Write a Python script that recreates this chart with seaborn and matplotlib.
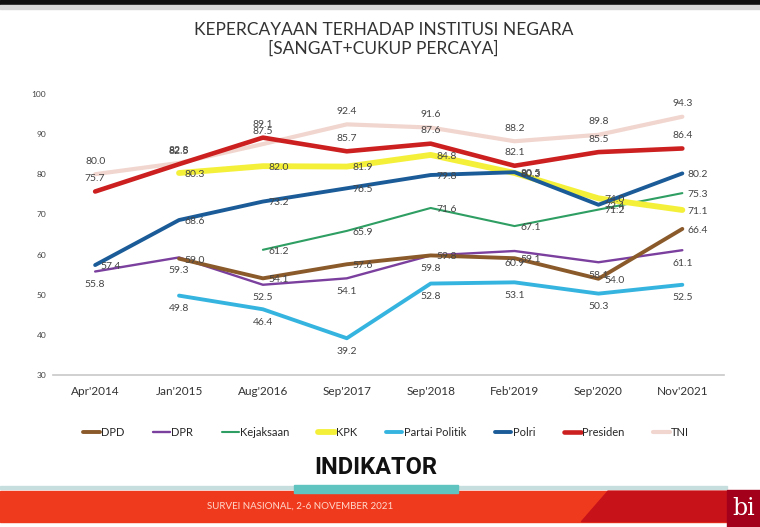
import numpy as np
import pandas as pd
import seaborn as sns
import matplotlib.pyplot as plt
from matplotlib.patches import Rectangle, Polygon

sns.set_theme(style="white")
plt.rcParams['font.family'] = ['Lato', 'DejaVu Sans']

# survey waves
periods = ["Apr'2014", "Jan'2015", "Aug'2016", "Sep'2017",
           "Sep'2018", "Feb'2019", "Sep'2020", "Nov'2021"]

# trust (%), sangat + cukup percaya
dpd = [np.nan, 59.0, 54.1, 57.6, 59.8, 59.1, 54.0, 66.4]
dpr = [55.8, 59.3, 52.5, 54.1, 59.8, 60.9, 58.1, 61.1]
kejaksaan = [np.nan, np.nan, 61.2, 65.9, 71.6, 67.1, 71.2, 75.3]
kpk = [np.nan, 80.3, 82.0, 81.9, 84.8, 80.3, 74.0, 71.1]
partai = [np.nan, 49.8, 46.4, 39.2, 52.8, 53.1, 50.3, 52.5]
polri = [57.4, 68.6, 73.2, 76.5, 79.8, 80.5, 72.4, 80.2]
presiden = [75.7, 82.5, 89.1, 85.7, 87.6, 82.1, 85.5, 86.4]
tni = [80.0, 82.8, 87.5, 92.4, 91.6, 88.2, 89.8, 94.3]

series = {
    'DPD': dpd, 'DPR': dpr, 'Kejaksaan': kejaksaan, 'KPK': kpk,
    'Partai Politik': partai, 'Polri': polri, 'Presiden': presiden, 'TNI': tni,
}

# colour, line width, where the value label sits
style = {
    'DPD':            ('#8a5a2b', 2.8, 'right'),
    'DPR':            ('#7b3f9e', 1.7, 'below'),
    'Kejaksaan':      ('#2e9e62', 1.5, 'right'),
    'KPK':            ('#f4f03a', 4.2, 'right'),
    'Partai Politik': ('#36b4e0', 2.8, 'below'),
    'Polri':          ('#1b5c98', 2.8, 'right'),
    'Presiden':       ('#cc1f1f', 3.3, 'above'),
    'TNI':            ('#f1d6cf', 3.0, 'above'),
}

rows = []
for name, vals in series.items():
    for i, v in enumerate(vals):
        rows.append({'institusi': name, 'periode': periods[i], 'x': i, 'nilai': v})
df = pd.DataFrame(rows)

fig = plt.figure(figsize=(7.6, 5.27), dpi=100)
ax = fig.add_axes([0.07, 0.288, 0.883, 0.534])

# draw back to front so the thick lines stay on top like the slide
draw_order = ['TNI', 'Kejaksaan', 'DPR', 'Partai Politik', 'DPD', 'KPK', 'Polri', 'Presiden']
for name in draw_order:
    color, lw, _ = style[name]
    sub = df[df['institusi'] == name].dropna()
    sns.lineplot(data=sub, x='x', y='nilai', ax=ax, color=color,
                 linewidth=lw, label=name, legend=False)

# value labels
offsets = {'above': ((0, 6), 'center', 'bottom'),
           'below': ((0, -6), 'center', 'top'),
           'right': ((4, -1), 'left', 'center')}
for name, vals in series.items():
    off, ha, va = offsets[style[name][2]]
    for i, v in enumerate(vals):
        if np.isnan(v):
            continue
        ax.annotate(f'{v:.1f}', (i, v), xytext=off, textcoords='offset points',
                    ha=ha, va=va, fontsize=7.5, color='#444444')

ax.set_xlim(-0.5, 7.5)
ax.set_ylim(30, 100)
ax.set_yticks(range(30, 101, 10))
ax.set_xticks(range(len(periods)))
ax.set_xticklabels(periods, fontsize=8.5, color='#333333')
ax.tick_params(axis='y', labelsize=6, colors='#444444', length=0, pad=5)
ax.tick_params(axis='x', which='major', length=0, pad=8)
ax.set_xticks(np.arange(0.5, 7, 1), minor=True)
ax.tick_params(axis='x', which='minor', length=4, color='#bbbbbb', width=1)
ax.set_xlabel('')
ax.set_ylabel('')
sns.despine(ax=ax, left=True)
ax.spines['bottom'].set_color('#c8c8c8')
ax.spines['bottom'].set_linewidth(1.2)

# legend in the original series order
handles, labels = ax.get_legend_handles_labels()
lookup = dict(zip(labels, handles))
names = list(series.keys())
fig.legend([lookup[n] for n in names], names, loc='center', ncol=8,
           bbox_to_anchor=(0.508, 0.18), frameon=False, fontsize=8,
           handlelength=1.5, handletextpad=0.1, columnspacing=2.6)

# titles
fig.text(0.505, 0.943, 'KEPERCAYAAN TERHADAP INSTITUSI NEGARA', ha='center',
         va='center', fontsize=12.5, color='#333333')
fig.text(0.505, 0.908, '[SANGAT+CUKUP PERCAYA]', ha='center', va='center',
         fontsize=12.5, color='#333333')

# slide frame and footer
fig.patches.append(Rectangle((0, 0.993), 1, 0.007, transform=fig.transFigure,
                             color='#111111', zorder=0))
fig.patches.append(Rectangle((0, 0.982), 1, 0.008, transform=fig.transFigure,
                             color='#d9d9d9', zorder=0))
fig.patches.append(Rectangle((0, 0.072), 0.957, 0.005, transform=fig.transFigure,
                             color='#c7dede', zorder=0))
fig.patches.append(Rectangle((0, 0.01), 0.957, 0.058, transform=fig.transFigure,
                             color='#f03a1e', zorder=0))
fig.patches.append(Polygon([(0.765, 0.01), (0.80, 0.068), (0.957, 0.068), (0.957, 0.01)],
                           closed=True, transform=fig.transFigure,
                           color='#c8121a', zorder=0))
fig.patches.append(Rectangle((0.387, 0.064), 0.215, 0.016, transform=fig.transFigure,
                             color='#5fc4c0', zorder=1))
fig.patches.append(Rectangle((0.957, 0.0), 0.043, 0.07, transform=fig.transFigure,
                             color='#a3001c', zorder=1))
fig.text(0.978, 0.035, 'bi', ha='center', va='center', fontsize=17,
         color='white', family='DejaVu Serif')
fig.text(0.395, 0.04, 'SURVEI NASIONAL, 2-6 NOVEMBER 2021', ha='center',
         va='center', fontsize=7, color='#ffd9cc')
fig.text(0.495, 0.112, 'INDIKATOR', ha='center', va='center', fontsize=17,
         fontweight='bold', color='#111111', family='Roboto')

fig.savefig('out.png', dpi=100)
